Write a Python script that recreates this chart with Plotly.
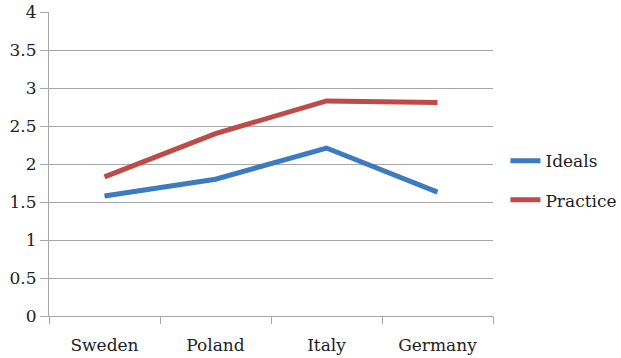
import plotly.graph_objects as go

categories = ["Sweden", "Poland", "Italy", "Germany"]
ideals = [1.58, 1.80, 2.21, 1.63]
practice = [1.83, 2.40, 2.83, 2.81]
y_ticks = [0, 0.5, 1, 1.5, 2, 2.5, 3, 3.5, 4]
y_tick_text = ["0", "0.5", "1", "1.5", "2", "2.5", "3", "3.5", "4"]

font = dict(family="DejaVu Serif", size=17, color="#222222")

fig = go.Figure()
fig.add_trace(go.Scatter(x=categories, y=ideals, mode="lines", name="Ideals",
                         legendgroup="a",
                         line=dict(color="#3C7BBF", width=5)))
fig.add_trace(go.Scatter(x=categories, y=practice, mode="lines", name="Practice",
                         legendgroup="b",
                         line=dict(color="#BE4B48", width=5)))

fig.update_layout(
    width=621, height=358,
    margin=dict(l=49, r=128, t=12, b=42, autoexpand=False),
    paper_bgcolor="white", plot_bgcolor="white",
    font=font,
    showlegend=True,
    legend=dict(x=1.028, y=0.445, xanchor="left", yanchor="middle",
                font=font, tracegroupgap=14, itemwidth=30,
                bgcolor="rgba(0,0,0,0)"),
)
fig.update_xaxes(type="category", showgrid=False, showline=True, linecolor="#A6A6A6", linewidth=1,
                 ticks="outside", tickson="boundaries", ticklen=7, tickcolor="#A6A6A6",
                 range=[-0.5, 3.5], tickfont=font, automargin=False, ticklabelstandoff=14)
fig.update_yaxes(range=[0, 4], tickvals=y_ticks, ticktext=y_tick_text, showgrid=True,
                 gridcolor="#A6A6A6", gridwidth=1, showline=True, linecolor="#A6A6A6",
                 ticks="outside", ticklen=8, tickcolor="#A6A6A6", zeroline=False, tickfont=font,
                 automargin=False)

fig.write_html("out.html")
